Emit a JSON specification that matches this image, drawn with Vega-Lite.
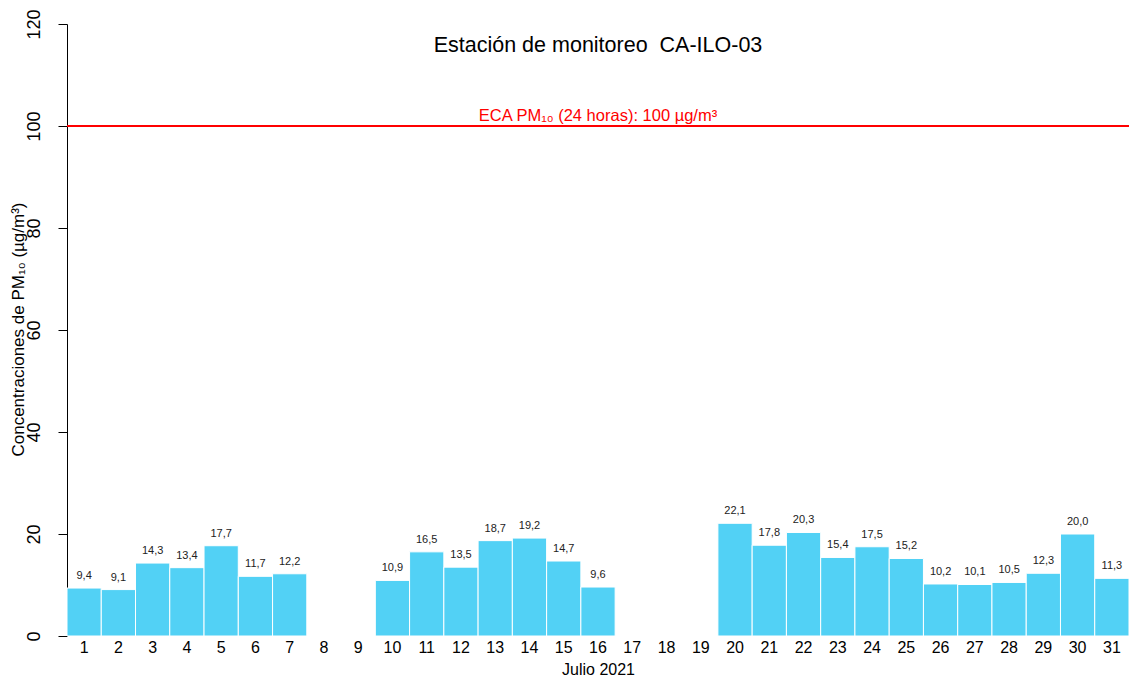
{
  "$schema": "https://vega.github.io/schema/vega-lite/v6.json",
  "autosize": "none",
  "width": 1062,
  "height": 612,
  "padding": {"left": 67, "top": 24, "right": 0, "bottom": 45},
  "background": "white",
  "config": {
    "view": {"stroke": null},
    "font": "Liberation Sans",
    "locale": {"number": {"decimal": ",", "thousands": ".", "grouping": [3], "currency": ["", " €"]}}
  },
  "title": {
    "text": "Estación de monitoreo \u00a0CA-ILO-03",
    "fontSize": 21.5,
    "fontWeight": "normal",
    "font": "Liberation Sans",
    "color": "black",
    "anchor": "middle",
    "offset": -48
  },
  "data": {
    "values": [
      {"dia": 1, "pm10": 9.4}, {"dia": 2, "pm10": 9.1}, {"dia": 3, "pm10": 14.3},
      {"dia": 4, "pm10": 13.4}, {"dia": 5, "pm10": 17.7}, {"dia": 6, "pm10": 11.7},
      {"dia": 7, "pm10": 12.2}, {"dia": 10, "pm10": 10.9}, {"dia": 11, "pm10": 16.5},
      {"dia": 12, "pm10": 13.5}, {"dia": 13, "pm10": 18.7}, {"dia": 14, "pm10": 19.2},
      {"dia": 15, "pm10": 14.7}, {"dia": 16, "pm10": 9.6}, {"dia": 20, "pm10": 22.1},
      {"dia": 21, "pm10": 17.8}, {"dia": 22, "pm10": 20.3}, {"dia": 23, "pm10": 15.4},
      {"dia": 24, "pm10": 17.5}, {"dia": 25, "pm10": 15.2}, {"dia": 26, "pm10": 10.2},
      {"dia": 27, "pm10": 10.1}, {"dia": 28, "pm10": 10.5}, {"dia": 29, "pm10": 12.3},
      {"dia": 30, "pm10": 20.0}, {"dia": 31, "pm10": 11.3}
    ]
  },
  "encoding": {
    "x": {
      "field": "dia",
      "type": "ordinal",
      "scale": {"domain": [1,2,3,4,5,6,7,8,9,10,11,12,13,14,15,16,17,18,19,20,21,22,23,24,25,26,27,28,29,30,31], "paddingInner": 0, "paddingOuter": 0},
      "axis": {
        "title": "Julio 2021",
        "titleFont": "Liberation Sans",
        "titleFontSize": 16,
        "titleFontWeight": "normal",
        "titleColor": "black",
        "titlePadding": 6,
        "labelAngle": 0,
        "labelFontSize": 16,
        "labelColor": "black",
        "labelPadding": 3,
        "domain": false,
        "ticks": false,
        "grid": false
      }
    }
  },
  "layer": [
    {
      "mark": {"type": "bar", "color": "#52D1F5", "stroke": "white", "strokeWidth": 1},
      "encoding": {
        "y": {
          "field": "pm10",
          "type": "quantitative",
          "scale": {"domain": [0, 120], "nice": false},
          "axis": {
            "title": "Concentraciones de PM₁₀ (µg/m³)",
            "titleFont": "Liberation Sans",
            "titleFontSize": 17,
            "titleFontWeight": "normal",
            "titleColor": "black",
            "titleX": -40,
            "titleY": 305,
            "titleAngle": -90,
            "titleAlign": "center",
            "titleBaseline": "bottom",
            "values": [0, 20, 40, 60, 80, 100, 120],
            "labelAngle": -90,
            "labelAlign": "center",
            "labelBaseline": "alphabetic",
            "labelFontSize": 18,
            "labelColor": "black",
            "labelPadding": 19,
            "tickSize": 9,
            "tickColor": "black",
            "domainColor": "black",
            "grid": false
          }
        }
      }
    },
    {
      "mark": {"type": "text", "baseline": "alphabetic", "dy": -9, "fontSize": 11, "color": "#222222", "font": "Liberation Sans"},
      "encoding": {
        "y": {"field": "pm10", "type": "quantitative"},
        "text": {"field": "pm10", "type": "quantitative", "format": ".1f"}
      }
    },
    {
      "data": {"values": [{"eca": 100, "etiqueta": "ECA PM₁₀ (24 horas): 100 µg/m³"}]},
      "mark": {"type": "rule", "color": "#FF0000", "strokeWidth": 2},
      "encoding": {"x": null, "y": {"field": "eca", "type": "quantitative"}}
    },
    {
      "data": {"values": [{"eca": 100, "etiqueta": "ECA PM₁₀ (24 horas): 100 µg/m³"}]},
      "mark": {"type": "text", "color": "#FF0000", "fontSize": 16.5, "baseline": "alphabetic", "dy": -5, "font": "Liberation Sans"},
      "encoding": {"x": null, "y": {"field": "eca", "type": "quantitative"}, "text": {"field": "etiqueta"}}
    }
  ]
}
